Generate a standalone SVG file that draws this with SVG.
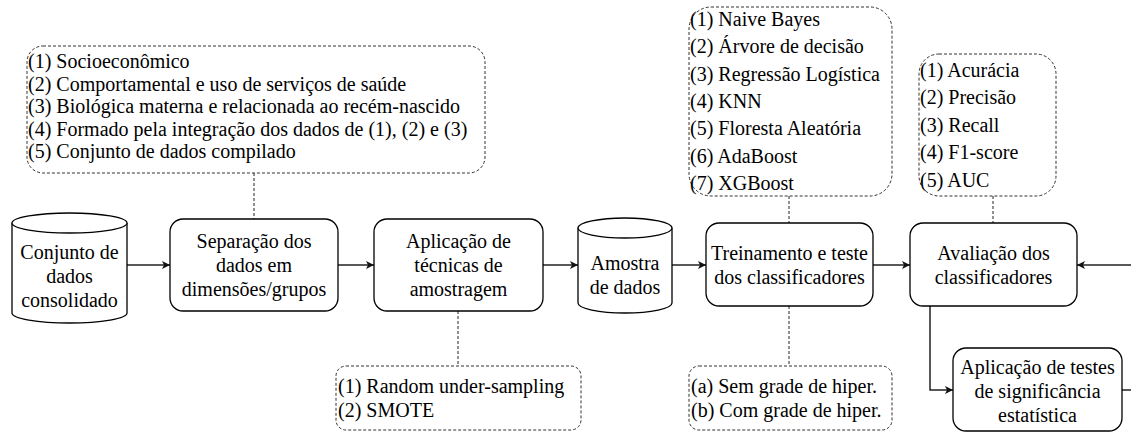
<svg xmlns="http://www.w3.org/2000/svg" width="1131" height="433" viewBox="0 0 1131 433">
<defs>
<marker id="arr" markerWidth="10" markerHeight="10" refX="8" refY="4" orient="auto" markerUnits="userSpaceOnUse"><path d="M0,0 L8,4 L0,8 L2,4 Z" fill="#111"/></marker>
<style>
.t text { font-size: 20px; fill: #000; }
.box { fill: #fff; stroke: #000; stroke-width: 1.3; }
.note { fill: none; stroke: #333; stroke-width: 1; stroke-dasharray: 3 2; }
.edge { fill: none; stroke: #222; stroke-width: 1.5; }
.dash { fill: none; stroke: #222; stroke-width: 1; stroke-dasharray: 3 2; }
.c { text-anchor: middle; }
</style>
</defs>
<rect width="1131" height="433" fill="#fff"/>

<g id="connectors">
<line class="edge" x1="127" y1="265" x2="170" y2="265" marker-end="url(#arr)"/>
<line class="edge" x1="338" y1="265" x2="374" y2="265" marker-end="url(#arr)"/>
<line class="edge" x1="543" y1="265" x2="578" y2="265" marker-end="url(#arr)"/>
<line class="edge" x1="672" y1="265" x2="706" y2="265" marker-end="url(#arr)"/>
<line class="edge" x1="873" y1="265" x2="910" y2="265" marker-end="url(#arr)"/>
<line class="edge" x1="1131" y1="265" x2="1077" y2="265" marker-end="url(#arr)"/>
<polyline class="edge" points="930,306 930,390 953,390" marker-end="url(#arr)"/>
<line class="edge" x1="1122" y1="390" x2="1131" y2="390"/>
<line class="dash" x1="254" y1="173" x2="254" y2="219"/>
<line class="dash" x1="789" y1="196" x2="789" y2="223"/>
<line class="dash" x1="993" y1="196" x2="993" y2="223"/>
<line class="dash" x1="458" y1="311" x2="458" y2="366"/>
<line class="dash" x1="789" y1="306" x2="789" y2="366"/>
</g>

<g class="t" font-family="Liberation Serif, Times New Roman, DejaVu Serif, serif">
<g id="n-conjunto">
<path class="box" d="M12,223 A57.5,10 0 0 1 127,223 L127,313 A57.5,10 0 0 1 12,313 Z"/>
<path class="box" fill="none" d="M12,223 A57.5,10 0 0 0 127,223"/>
<text class="c" x="69.5" y="259">Conjunto de</text>
<text class="c" x="69.5" y="283">dados</text>
<text class="c" x="69.5" y="307">consolidado</text>
</g>

<g id="n-separacao">
<rect class="box" x="170" y="219" width="168" height="92" rx="13"/>
<text class="c" x="254" y="248">Separação dos</text>
<text class="c" x="254" y="272">dados em</text>
<text class="c" x="254" y="296">dimensões/grupos</text>
</g>

<g id="n-aplicacao">
<rect class="box" x="374" y="219" width="169" height="92" rx="13"/>
<text class="c" x="458.5" y="248">Aplicação de</text>
<text class="c" x="458.5" y="272">técnicas de</text>
<text class="c" x="458.5" y="296">amostragem</text>
</g>

<g id="n-amostra">
<path class="box" d="M578,228 A47,10 0 0 1 672,228 L672,303 A47,10 0 0 1 578,303 Z"/>
<path class="box" fill="none" d="M578,228 A47,10 0 0 0 672,228"/>
<text class="c" x="625" y="270">Amostra</text>
<text class="c" x="625" y="294">de dados</text>
</g>

<g id="n-treinamento">
<rect class="box" x="706" y="223" width="167" height="83" rx="13"/>
<text class="c" x="789.5" y="260">Treinamento e teste</text>
<text class="c" x="789.5" y="284">dos classificadores</text>
</g>

<g id="n-avaliacao">
<rect class="box" x="910" y="223" width="167" height="83" rx="13"/>
<text class="c" x="993.5" y="260">Avaliação dos</text>
<text class="c" x="993.5" y="284">classificadores</text>
</g>

<g id="n-testes">
<rect class="box" x="953" y="348" width="169" height="83" rx="13"/>
<text class="c" x="1037.5" y="374">Aplicação de testes</text>
<text class="c" x="1037.5" y="398">de significância</text>
<text class="c" x="1037.5" y="422">estatística</text>
</g>

<g id="n-dimensoes">
<rect class="note" x="27" y="46" width="458" height="127" rx="16"/>
<text x="28" y="68">(1) Socioeconômico</text>
<text x="28" y="90.5">(2) Comportamental e uso de serviços de saúde</text>
<text x="28" y="113">(3) Biológica materna e relacionada ao recém-nascido</text>
<text x="28" y="135.5">(4) Formado pela integração dos dados de (1), (2) e (3)</text>
<text x="28" y="158">(5) Conjunto de dados compilado</text>
</g>

<g id="n-classificadores">
<rect class="note" x="689" y="7" width="203" height="189" rx="22"/>
<text x="690" y="26">(1) Naive Bayes</text>
<text x="690" y="53.3">(2) Árvore de decisão</text>
<text x="690" y="80.6">(3) Regressão Logística</text>
<text x="690" y="107.9">(4) KNN</text>
<text x="690" y="135.2">(5) Floresta Aleatória</text>
<text x="690" y="162.5">(6) AdaBoost</text>
<text x="690" y="189.8">(7) XGBoost</text>
</g>

<g id="n-metricas">
<rect class="note" x="919" y="54" width="137" height="142" rx="20"/>
<text x="920" y="77">(1) Acurácia</text>
<text x="920" y="104.4">(2) Precisão</text>
<text x="920" y="131.8">(3) Recall</text>
<text x="920" y="159.2">(4) F1-score</text>
<text x="920" y="186.6">(5) AUC</text>
</g>

<g id="n-amostragem">
<rect class="note" x="336" y="366" width="245" height="64" rx="10"/>
<text x="338" y="393">(1) Random under-sampling</text>
<text x="338" y="417">(2) SMOTE</text>
</g>

<g id="n-hiper">
<rect class="note" x="689" y="366" width="203" height="64" rx="10"/>
<text x="691" y="393">(a) Sem grade de hiper.</text>
<text x="691" y="417">(b) Com grade de hiper.</text>
</g>
</g>
</svg>
